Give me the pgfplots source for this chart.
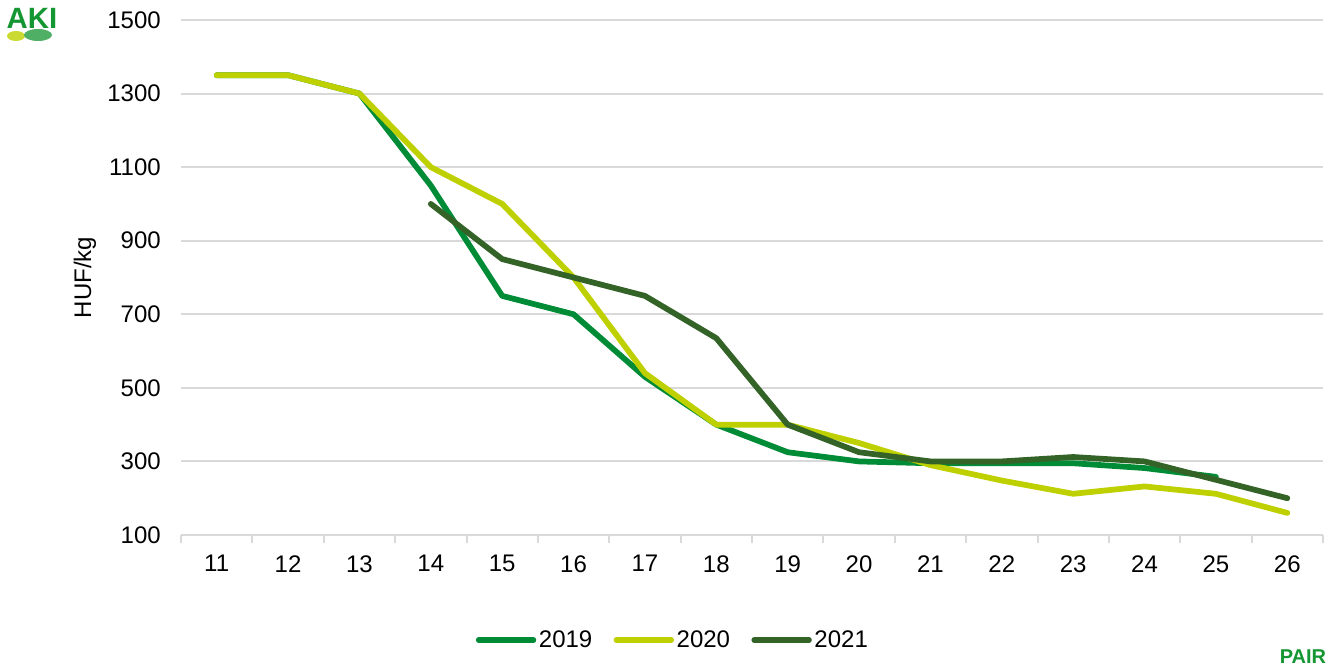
\documentclass[border=0pt]{standalone}
\usepackage{fontspec}
\setmainfont{Liberation Sans}
\usepackage{pgfplots}
\pgfplotsset{compat=1.18}

\definecolor{c2019}{RGB}{0,140,54}
\definecolor{c2020}{RGB}{190,208,0}
\definecolor{c2021}{RGB}{52,99,40}
\definecolor{gridgray}{RGB}{217,217,217}
\definecolor{logogreen}{RGB}{20,150,50}

\begin{document}
\begin{tikzpicture}[x=0.75pt,y=0.75pt]
% 1 unit = 1 px of the 1343x670 reference
\begin{axis}[
    at={(135.75pt,101.25pt)}, anchor=south west,
    scale only axis,
    width=856.5pt, height=386.25pt,
    xmin=10.5, xmax=26.5,
    ymin=100, ymax=1500,
    xtick={11,...,26},
    minor xtick={10.5,11.5,...,26.5},
    ytick={100,300,...,1500},
    major tick length=0pt,
    minor tick length=6pt,
    tick align=outside,
    minor tick style={gridgray, line width=1.5pt},
    axis x line*=bottom,
    axis y line*=left,
    x axis line style={gridgray, line width=1.5pt, -},
    y axis line style={draw=none},
    ymajorgrids,
    grid style={gridgray, line width=1.5pt},
    /pgf/number format/assume math mode=true,
    /pgf/number format/1000 sep={},
    tick label style={font=\fontsize{18}{20}\selectfont, black},
    xticklabel style={inner sep=0pt, anchor=north, yshift=-15pt},
    yticklabel style={inner sep=0pt, anchor=east, xshift=-15pt},
    ylabel={HUF/kg},
    ylabel style={font=\fontsize{18}{20}\selectfont, at={(rel axis cs:0,0.5)}, anchor=center, yshift=72pt},
    legend columns=3,
    legend style={draw=none, at={(rel axis cs:0.431,-0.204)}, anchor=center,
        font=\fontsize{18}{20}\selectfont, inner sep=0pt,
        /tikz/every even column/.append style={column sep=14pt}},
    legend cell align=left,
    legend image code/.code={\draw[#1, line cap=round] (0pt,0pt) -- (41pt,0pt);},
    every axis plot/.append style={line width=4.3pt, line cap=round, line join=round},
]
\addplot[c2019] coordinates {
    (11,1350) (12,1350) (13,1300) (14,1050) (15,750) (16,700) (17,530)
    (18,400) (19,325) (20,300) (21,295) (22,295) (23,295) (24,282) (25,258)
};
\addlegendentry{2019}
\addplot[c2020] coordinates {
    (11,1350) (12,1350) (13,1300) (14,1100) (15,1000) (16,800) (17,540)
    (18,400) (19,400) (20,350) (21,290) (22,248) (23,212) (24,232) (25,212) (26,160)
};
\addlegendentry{2020}
\addplot[c2021] coordinates {
    (14,1000) (15,850) (16,800) (17,750) (18,635) (19,400) (20,325)
    (21,300) (22,300) (23,312) (24,300) (25,250) (26,200)
};
\addlegendentry{2021}
\end{axis}
% logos
\fill[c2020!80] (16,634) ellipse (9 and 5);
\fill[logogreen!75] (38,635) ellipse (14 and 6);
\node[anchor=center, text=logogreen, font=\bfseries\fontsize{22}{22}\selectfont, inner sep=0pt] at (32,652) {AKI};
\node[anchor=center, text=logogreen, font=\bfseries\fontsize{15}{15}\selectfont, inner sep=0pt] at (1303,13) {PAIR};
\pgfresetboundingbox
\useasboundingbox (0,0) rectangle (1343,670);
\end{tikzpicture}
\end{document}
